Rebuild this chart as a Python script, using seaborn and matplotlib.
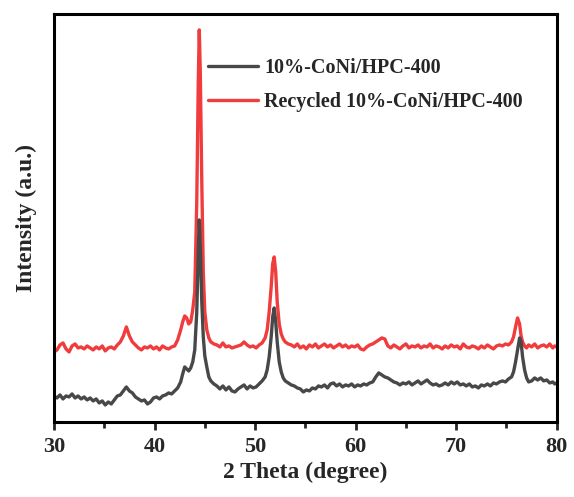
import numpy as np
import pandas as pd
import matplotlib
matplotlib.use("Agg")
import matplotlib.pyplot as plt
import seaborn as sns
from matplotlib.ticker import MultipleLocator

# ==========================
# Data
# ==========================
theta = [
    30.0, 30.3, 30.6, 30.9, 31.2, 31.5, 31.8, 32.1, 32.4, 32.7,
    33.0, 33.3, 33.6, 33.9, 34.2, 34.5, 34.8, 35.1, 35.4, 35.7,
    36.0, 36.3, 36.6, 36.9, 37.2, 37.5, 37.8, 38.1, 38.4, 38.7,
    39.0, 39.3, 39.6, 39.9, 40.2, 40.5, 40.8, 41.1, 41.4, 41.7,
    42.0, 42.3, 42.6, 42.8, 43.0, 43.2, 43.4, 43.6, 43.8, 44.0,
    44.2, 44.35, 44.45, 44.55, 44.7, 44.85, 45.0, 45.2, 45.4, 45.6,
    45.9, 46.2, 46.5, 46.8, 47.1, 47.4, 47.7, 48.0, 48.3, 48.6,
    48.9, 49.2, 49.5, 49.8, 50.1, 50.4, 50.7, 51.0, 51.2, 51.4,
    51.6, 51.75, 51.9, 52.05, 52.2, 52.4, 52.6, 52.8, 53.0, 53.3,
    53.6, 53.9, 54.2, 54.5, 54.8, 55.1, 55.4, 55.7, 56.0, 56.3,
    56.6, 56.9, 57.2, 57.5, 57.8, 58.1, 58.4, 58.7, 59.0, 59.3,
    59.6, 59.9, 60.2, 60.5, 60.8, 61.1, 61.4, 61.7, 62.0, 62.3,
    62.6, 62.9, 63.2, 63.5, 63.8, 64.1, 64.4, 64.7, 65.0, 65.3,
    65.6, 65.9, 66.2, 66.5, 66.8, 67.1, 67.4, 67.7, 68.0, 68.3,
    68.6, 68.9, 69.2, 69.5, 69.8, 70.1, 70.4, 70.7, 71.0, 71.3,
    71.6, 71.9, 72.2, 72.5, 72.8, 73.1, 73.4, 73.7, 74.0, 74.3,
    74.6, 74.9, 75.2, 75.5, 75.7, 75.9, 76.1, 76.3, 76.45, 76.6,
    76.8, 77.0, 77.2, 77.5, 77.8, 78.1, 78.4, 78.7, 79.0, 79.3,
    79.6, 79.8, 80.0,
]

fresh = [
    26, 24, 27, 23, 26, 25, 28, 24, 26, 23,
    25, 22, 24, 21, 23, 19, 21, 17, 20, 18,
    22, 26, 27, 31, 35, 31, 29, 25, 23, 21,
    22, 18, 20, 24, 25, 23, 26, 27, 29, 28,
    31, 34, 40, 48, 55, 53, 51, 54, 60, 72,
    110, 170, 202, 175, 120, 85, 66, 55, 45, 41,
    38, 36, 33, 36, 32, 35, 31, 30, 33, 35,
    37, 33, 36, 34, 35, 38, 41, 45, 52, 65,
    85, 105, 114, 100, 80, 60, 50, 44, 41, 39,
    37, 36, 34, 33, 30, 32, 31, 34, 33, 36,
    35, 37, 34, 38, 39, 36, 38, 35, 37, 36,
    38, 35, 37, 36, 38, 37, 39, 40, 45, 49,
    47, 45, 44, 42, 40, 39, 37, 39, 38, 40,
    37, 39, 41, 38, 40, 42, 39, 37, 38, 36,
    37, 39, 37, 40, 38, 40, 37, 38, 36, 38,
    35, 36, 34, 37, 36, 38, 36, 39, 38, 40,
    41, 40, 43, 45, 50, 60, 72, 84, 80, 65,
    52, 44, 40, 41, 44, 42, 44, 41, 42, 39,
    40, 38, 39,
]

recycled = [
    70, 72, 77, 79, 73, 70, 76, 78, 74, 75,
    73, 76, 74, 72, 75, 73, 76, 71, 74, 75,
    73, 77, 80, 86, 95, 86, 80, 77, 74, 72,
    75, 74, 76, 73, 75, 72, 76, 74, 73, 75,
    76, 82, 92, 100, 106, 104, 98, 100, 112, 130,
    220, 340, 392, 350, 240, 150, 110, 92, 84, 80,
    78, 77, 75, 79, 75, 76, 74, 75, 76, 77,
    80, 77, 75, 76, 74, 77, 79, 84, 92, 110,
    135, 158, 165, 150, 120, 98, 88, 83, 80, 78,
    77, 75, 78, 74, 76, 73, 77, 75, 78, 74,
    76, 78, 75, 77, 74, 76, 78, 75, 77, 74,
    76, 75, 77, 73, 72, 75, 77, 78, 80, 82,
    84, 83, 76, 74, 77, 75, 73, 76, 78, 74,
    76, 75, 77, 74, 76, 75, 78, 74, 76, 75,
    73, 76, 74, 77, 75, 76, 73, 78, 75, 74,
    76, 75, 73, 76, 74, 77, 75, 73, 76, 77,
    76, 78, 77, 80, 85, 95, 104, 98, 86, 80,
    76, 74, 77, 75, 78, 74, 76, 77, 75, 78,
    74, 76, 75,
]

labels = ["10%-CoNi/HPC-400", "Recycled 10%-CoNi/HPC-400"]
colors = ["#484848", "#f03c3c"]

df_fresh = pd.DataFrame({"theta": theta, "intensity": fresh})
df_rec = pd.DataFrame({"theta": theta, "intensity": recycled})

# ==========================
# Plot
# ==========================
sns.set_style("ticks")
plt.rcParams["font.family"] = ["Liberation Serif", "DejaVu Serif"]
plt.rcParams["font.weight"] = "bold"

fig = plt.figure(figsize=(5.74, 4.97), dpi=100)
ax = fig.add_axes([0.094, 0.151, 0.876, 0.821])

sns.lineplot(data=df_rec, x="theta", y="intensity", ax=ax, color=colors[1],
             lw=2.4, label=labels[1], sort=False, estimator=None)
sns.lineplot(data=df_fresh, x="theta", y="intensity", ax=ax, color=colors[0],
             lw=2.4, label=labels[0], sort=False, estimator=None)

ax.set_xlim(30, 80)
ax.set_ylim(0, 408)
ax.xaxis.set_major_locator(MultipleLocator(10))
ax.xaxis.set_minor_locator(MultipleLocator(5))
ax.set_yticks([])

ax.tick_params(axis="x", which="major", direction="out", length=6, width=2,
               labelsize=16, pad=5)
ax.tick_params(axis="x", which="minor", direction="out", length=4, width=2)
for lab in ax.get_xticklabels():
    lab.set_fontweight("bold")

for s in ax.spines.values():
    s.set_visible(True)
    s.set_linewidth(2.2)
    s.set_color("black")

ax.set_xlabel("2 Theta (degree)", fontsize=17, fontweight="bold", labelpad=3)
ax.set_ylabel("Intensity (a.u.)", fontsize=17, fontweight="bold", labelpad=12)

handles, labs = ax.get_legend_handles_labels()
ax.legend(handles[::-1], labs[::-1], loc="upper left",
          bbox_to_anchor=(0.306, 0.893), frameon=False, borderpad=0,
          borderaxespad=0, handlelength=2.5, handletextpad=0.3,
          labelspacing=0.7, prop={"size": 14.5, "weight": "bold"})

plt.savefig("out.png", dpi=100)
plt.close()
